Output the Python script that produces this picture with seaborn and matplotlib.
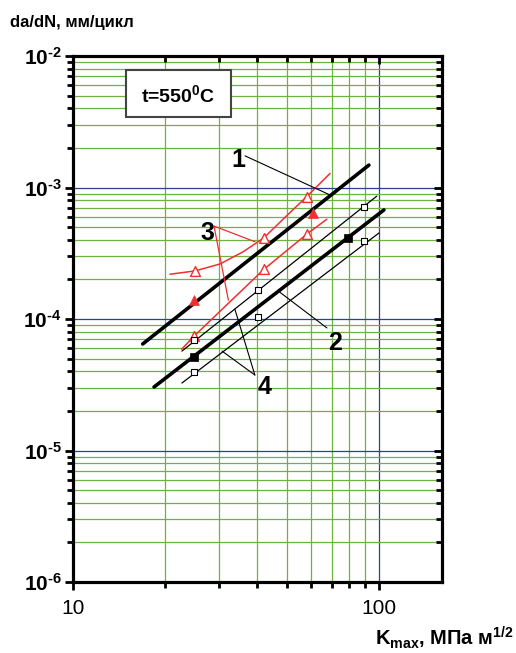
import numpy as np
import pandas as pd
import matplotlib
matplotlib.use("Agg")
import matplotlib.pyplot as plt
import seaborn as sns
from matplotlib.ticker import FixedLocator, FixedFormatter, NullFormatter, LogLocator
from matplotlib.patches import Rectangle

# straight regression lines (end points), K_max in MPa*m^0.5, da/dN in mm/cycle
line1_k = [16.9, 92.7]
line1_v = [6.46e-5, 1.48e-3]
line2_k = [18.4, 103.8]
line2_v = [3.04e-5, 6.75e-4]
line4a_k = [22.7, 98.4]
line4a_v = [5.7e-5, 8.6e-4]
line4b_k = [22.7, 100.0]
line4b_v = [3.26e-5, 4.51e-4]

# red curves (3)
curve3a_k = [20.75, 25.04, 30.23, 36.02, 42.09, 49.3, 58.03, 69.2]
curve3a_v = [2.19e-4, 2.32e-4, 2.62e-4, 3.25e-4, 4.15e-4, 5.93e-4, 8.51e-4, 1.28e-3]
curve3b_k = [22.65, 24.91, 31.79, 42.09, 49.94, 58.03, 67.5]
curve3b_v = [5.89e-5, 7.43e-5, 1.28e-4, 2.39e-4, 3.31e-4, 4.41e-4, 5.73e-4]

# measured points
tri_open_k = [25.0, 42.1, 58.0, 24.9, 42.1, 58.0]
tri_open_v = [2.32e-4, 4.15e-4, 8.51e-4, 7.43e-5, 2.39e-4, 4.41e-4]
tri_fill_k = [24.9, 60.7]
tri_fill_v = [1.39e-4, 6.43e-4]
sq_fill_k = [24.8, 79.2]
sq_fill_v = [5.14e-5, 4.13e-4]
sq_open_k = [24.8, 40.2, 89.3, 24.8, 40.2, 89.3]
sq_open_v = [6.92e-5, 1.66e-4, 7.11e-4, 3.95e-5, 1.035e-4, 3.92e-4]

# curve labels and leader lines
labels = ["1", "2", "3", "4"]
label_k = [34.6, 71.8, 27.4, 42.4]
label_v = [1.62e-3, 6.58e-5, 4.51e-4, 3.04e-5]
leaders_black = [
    ([36.5, 69.2], [1.74e-3, 8.77e-4]),
    ([67.6, 47.4], [8.55e-5, 1.60e-4]),
    ([39.3, 33.8], [3.75e-5, 1.19e-4]),
    ([39.3, 30.7], [3.75e-5, 5.7e-5]),
]
leaders_red = [
    ([28.9, 39.3], [5.09e-4, 3.87e-4]),
    ([28.9, 32.2], [5.09e-4, 1.39e-4]),
]

y_ticks = [1e-6, 1e-5, 1e-4, 1e-3, 1e-2]
y_ticklabels = [r"$\mathbf{10}^{\mathbf{‐%d}}$" % p for p in [6, 5, 4, 3, 2]]
x_ticks = [10, 100]
x_ticklabels = ["10", "100"]

GREEN = "#6cb33f"
BLUE = "#2b3f9e"
RED = "#f03030"

sns.set_style("ticks")
plt.rcParams["font.family"] = ["Liberation Sans", "DejaVu Sans"]
plt.rcParams["mathtext.fontset"] = "custom"
plt.rcParams["mathtext.rm"] = "Liberation Sans"
plt.rcParams["mathtext.bf"] = "Liberation Sans:bold"
plt.rcParams["mathtext.it"] = "Liberation Sans:italic"
for key in ["text.color", "axes.labelcolor", "xtick.color", "ytick.color", "axes.edgecolor"]:
    plt.rcParams[key] = "black"

fig = plt.figure(figsize=(5.16, 6.53), dpi=100)
ax = fig.add_axes([73 / 516, 1 - 582 / 653, 369 / 516, 526 / 653])
ax.set_xscale("log")
ax.set_yscale("log")
ax.set_xlim(10, 160.7)
ax.set_ylim(1e-6, 1e-2)

ax.xaxis.set_major_locator(FixedLocator(x_ticks))
ax.xaxis.set_major_formatter(FixedFormatter(x_ticklabels))
ax.xaxis.set_minor_locator(LogLocator(base=10, subs=np.arange(2, 10)))
ax.xaxis.set_minor_formatter(NullFormatter())
ax.yaxis.set_major_locator(FixedLocator(y_ticks))
ax.yaxis.set_major_formatter(FixedFormatter(y_ticklabels))
ax.yaxis.set_minor_locator(LogLocator(base=10, subs=np.arange(2, 10), numticks=20))
ax.yaxis.set_minor_formatter(NullFormatter())

ax.set_axisbelow(True)
ax.grid(which="minor", color=GREEN, lw=0.9)
ax.grid(which="major", color=BLUE, lw=0.9)

ax.tick_params(which="major", direction="out", length=6, width=2, labelsize=15)
ax.tick_params(which="minor", direction="out", length=4, width=2)
ax.tick_params(axis="x", pad=6)
ax.tick_params(axis="y", pad=2, labelsize=15)
for s in ax.spines.values():
    s.set_linewidth(2.2)

# inward ticks on right and top
axr = ax.twinx()
axr.set_yscale("log")
axr.set_ylim(ax.get_ylim())
axr.yaxis.set_major_locator(FixedLocator(y_ticks))
axr.yaxis.set_minor_locator(LogLocator(base=10, subs=np.arange(2, 10), numticks=20))
axr.yaxis.set_minor_formatter(NullFormatter())
axr.tick_params(axis="y", which="both", direction="in", labelright=False, width=2)
axr.tick_params(axis="y", which="major", length=6)
axr.tick_params(axis="y", which="minor", length=4)
axt = ax.twiny()
axt.set_xscale("log")
axt.set_xlim(ax.get_xlim())
axt.xaxis.set_major_locator(FixedLocator(x_ticks))
axt.xaxis.set_minor_locator(LogLocator(base=10, subs=np.arange(2, 10)))
axt.xaxis.set_minor_formatter(NullFormatter())
axt.tick_params(axis="x", which="both", direction="in", labeltop=False, width=2)
axt.tick_params(axis="x", which="major", length=6)
axt.tick_params(axis="x", which="minor", length=4)
for a in (axr, axt):
    for s in a.spines.values():
        s.set_linewidth(2.2)

# lines
sns.lineplot(x=line1_k, y=line1_v, ax=ax, color="black", lw=2.6, sort=False, estimator=None)
sns.lineplot(x=line2_k, y=line2_v, ax=ax, color="black", lw=2.6, sort=False, estimator=None)
sns.lineplot(x=line4a_k, y=line4a_v, ax=ax, color="black", lw=0.9, sort=False, estimator=None)
sns.lineplot(x=line4b_k, y=line4b_v, ax=ax, color="black", lw=0.9, sort=False, estimator=None)
sns.lineplot(x=curve3a_k, y=curve3a_v, ax=ax, color=RED, lw=1.1, sort=False, estimator=None)
sns.lineplot(x=curve3b_k, y=curve3b_v, ax=ax, color=RED, lw=1.1, sort=False, estimator=None)

# leader lines
for xs, ys in leaders_black:
    ax.plot(xs, ys, color="black", lw=0.8)
for xs, ys in leaders_red:
    ax.plot(xs, ys, color=RED, lw=0.9)

# markers
sns.scatterplot(x=tri_open_k, y=tri_open_v, ax=ax, marker="^", s=50,
                facecolor="white", edgecolor=RED, linewidth=1.0, zorder=5)
sns.scatterplot(x=tri_fill_k, y=tri_fill_v, ax=ax, marker="^", s=50,
                color=RED, edgecolor=RED, linewidth=0.5, zorder=5)
sns.scatterplot(x=sq_open_k, y=sq_open_v, ax=ax, marker="s", s=25,
                facecolor="white", edgecolor="black", linewidth=0.8, zorder=5)
sns.scatterplot(x=sq_fill_k, y=sq_fill_v, ax=ax, marker="s", s=34,
                color="black", edgecolor="black", linewidth=0.5, zorder=5)

for lab, kx, vy in zip(labels, label_k, label_v):
    ax.text(kx, vy, lab, fontsize=18, fontweight="bold", ha="center", va="center")

# temperature box
ax.add_patch(Rectangle((0.1436, 0.884), 0.2846, 0.089, transform=ax.transAxes,
                       facecolor="white", edgecolor="#444444", lw=1.5, zorder=6))
ax.text(0.2846, 0.926, r"t=550$^{\mathbf{0}}$C", transform=ax.transAxes,
        fontsize=14, fontweight="bold", ha="center", va="center", zorder=7)

fig.text(0.02, 0.958, "da/dN, мм/цикл", fontsize=12, fontweight="bold",
         ha="left", va="baseline")
fig.text(0.995, 0.012, r"$\mathbf{K_{max}}$, МПа м$^{\mathbf{1/2}}$", fontsize=14.5,
         fontweight="bold", ha="right", va="baseline")

fig.savefig("out.png", dpi=100)
